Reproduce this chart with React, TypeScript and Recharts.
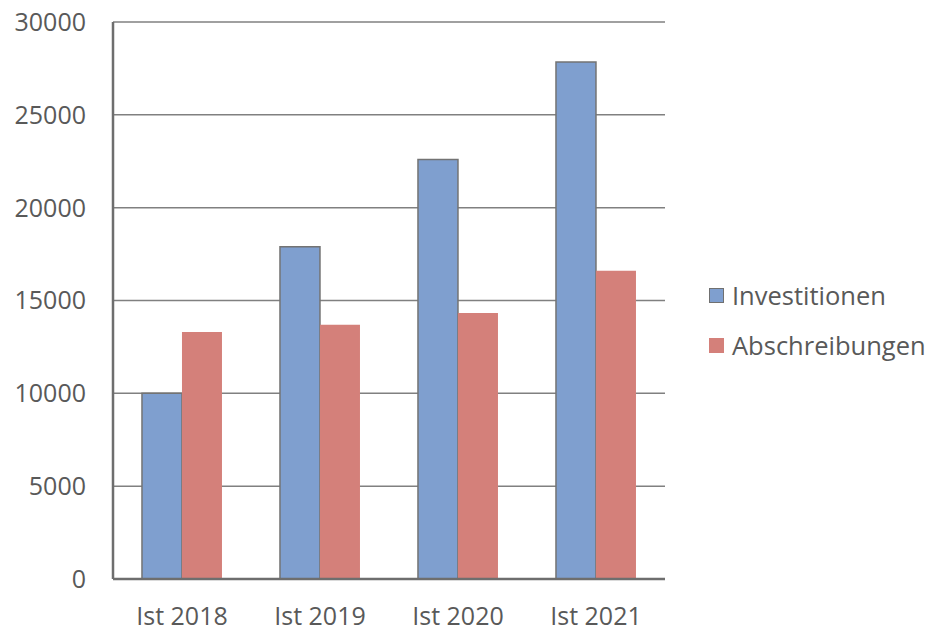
import React from 'react';
import { BarChart, Bar, XAxis, YAxis, CartesianGrid } from 'recharts';

const years = ['Ist 2018', 'Ist 2019', 'Ist 2020', 'Ist 2021'];
const investitionen = [10000, 17900, 22600, 27850];
const abschreibungen = [13300, 13700, 14330, 16600];
const yTicks = [0, 5000, 10000, 15000, 20000, 25000, 30000];

const data = years.map((y, i) => ({
  year: y,
  investitionen: investitionen[i],
  abschreibungen: abschreibungen[i],
}));

const FONT = '"Open Sans", "Noto Sans", sans-serif';
const TEXT = '#595959';

// legend drawn beside the plot, same spot as in the original
const LegendBox = () => (
  <div
    style={{
      position: 'absolute',
      left: 709,
      top: 279,
      fontFamily: FONT,
      fontSize: 25.5,
      color: TEXT,
      lineHeight: '32px',
    }}
  >
    <div style={{ display: 'flex', alignItems: 'center', marginBottom: 18 }}>
      <span style={{ width: 13, height: 13, background: '#7f9fcf', border: '1.5px solid #707070', marginRight: 8 }} />
      Investitionen
    </div>
    <div style={{ display: 'flex', alignItems: 'center' }}>
      <span style={{ width: 15, height: 15, background: '#d4807a', marginRight: 8 }} />
      Abschreibungen
    </div>
  </div>
);

const App = () => {
  return (
    <div style={{ position: 'absolute', left: 0, top: 0, width: 930, height: 633, background: '#fff' }}>
      <BarChart
        width={930}
        height={633}
        data={data}
        margin={{ top: 22, right: 265, bottom: 0, left: 0 }}
        barCategoryGap="21%"
        barGap={0}
      >
        <CartesianGrid vertical={false} stroke="#808080" strokeWidth={1.5} />
        <XAxis
          dataKey="year"
          height={54}
          stroke="#6e6e6e"
          strokeWidth={2.5}
          tickLine={false}
          tickMargin={22}
          tick={{ fill: TEXT, fontSize: 25, fontFamily: FONT }}
        />
        <YAxis
          width={113}
          domain={[0, 30000]}
          ticks={yTicks}
          stroke="#6e6e6e"
          strokeWidth={2.5}
          tickLine={false}
          tickSize={0}
          tickMargin={27}
          tick={{ fill: TEXT, fontSize: 25, fontFamily: FONT }}
        />
        <Bar dataKey="investitionen" fill="#7f9fcf" stroke="#737373" strokeWidth={1.5} isAnimationActive={false} />
        <Bar dataKey="abschreibungen" fill="#d4807a" isAnimationActive={false} />
      </BarChart>
      <LegendBox />
    </div>
  );
};

export default App;
